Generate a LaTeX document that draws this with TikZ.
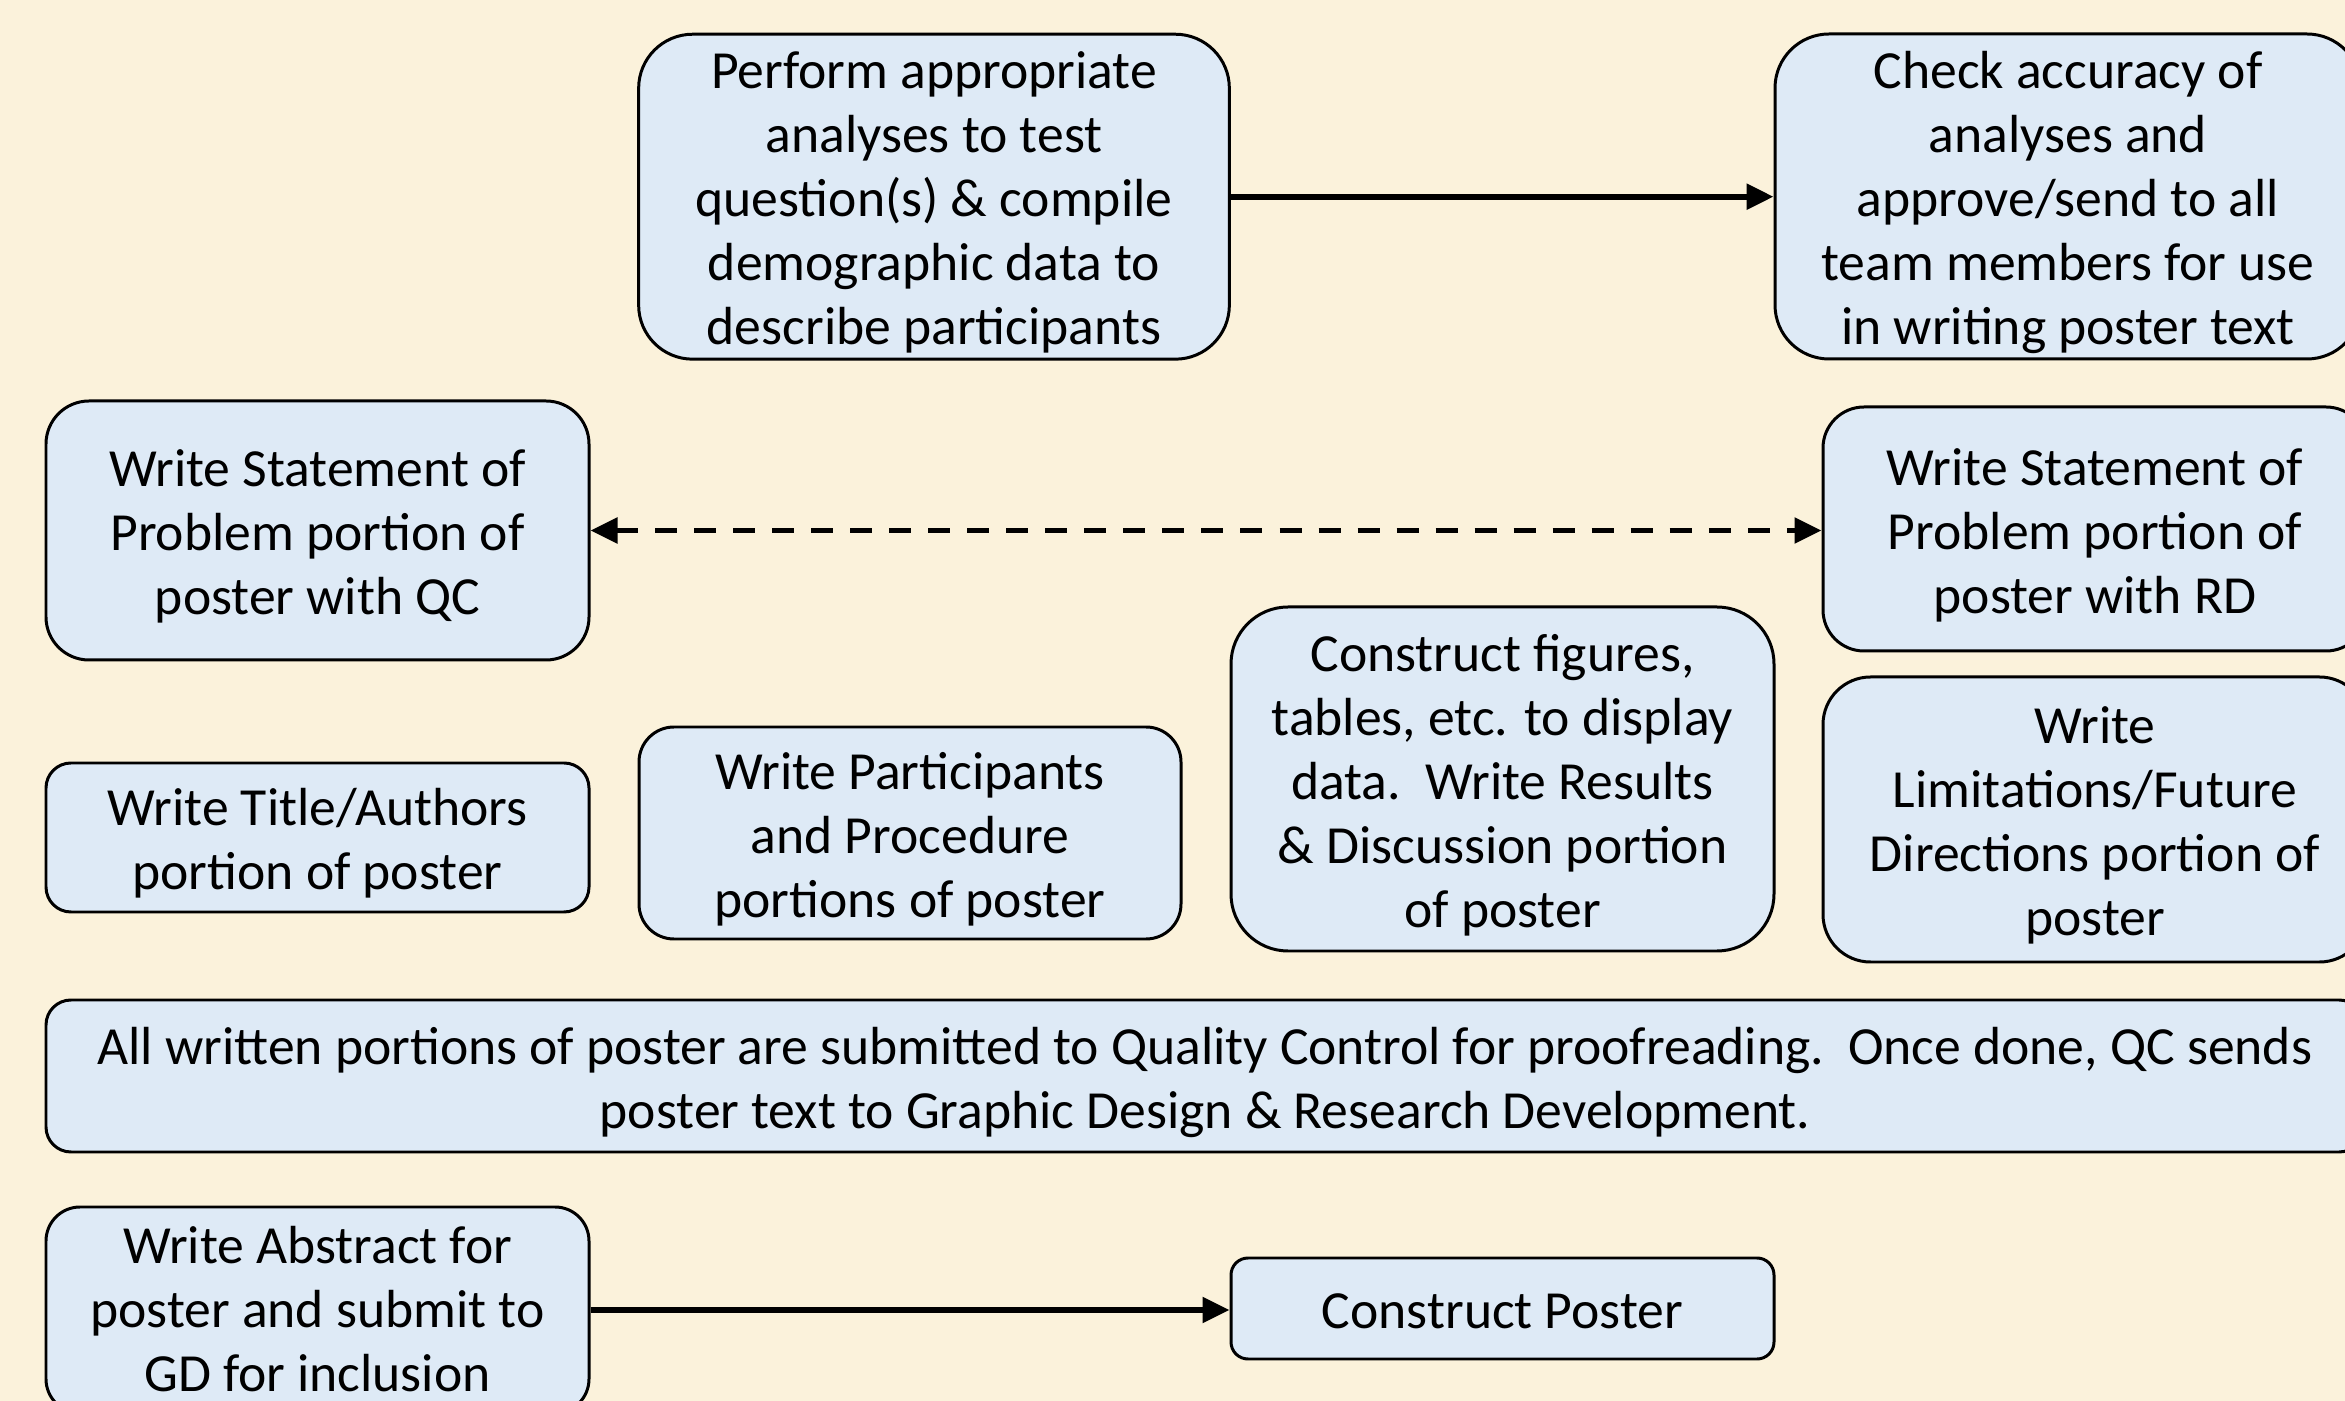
\documentclass[tikz,border=0pt]{standalone}
\usepackage{fontspec}
\setmainfont{Carlito}
\usetikzlibrary{arrows.meta}
\definecolor{bgcream}{HTML}{FBF2DB}
\definecolor{boxblue}{HTML}{DEEAF6}
\newcommand\myTop{\rule{0pt}{15.5pt}}
\newcommand\myTopB{\rule{0pt}{14.3pt}}
\newcommand\myBot{\rule[-4.1pt]{0pt}{0pt}}
\tikzset{
  rbox/.style n args={3}{draw=black, line width=0.85pt, fill=boxblue,
    align=center, inner sep=0pt, text=black,
    font=\fontsize{15.25pt}{18.2pt}\selectfont,
    minimum width=#1*0.01cm, minimum height=#2*0.01cm,
    rounded corners=#3*0.01cm},
  conn/.style={line width=1.6pt, -{Triangle[length=0.27cm,width=0.25cm]}},
  dconn/.style={line width=1.6pt, dash pattern=on 0.22cm off 0.17cm,
    {Triangle[length=0.27cm,width=0.25cm]}-{Triangle[length=0.27cm,width=0.25cm]}}
}
\begin{document}
\begin{tikzpicture}[x=0.01cm, y=-0.01cm]
\useasboundingbox (0,0) rectangle (2345,1401);
\clip (0,0) rectangle (2345,1401);
\fill[bgcream] (0,0) rectangle (2345,1401);

\node[rbox={590.7}{324.5}{54}] (perform) at (934,196.7)
  {\myTop Perform appropriate\\analyses to test\\question(s) \& compile\\demographic data to\\describe participants\myBot};
\node[rbox={586}{325}{54}] (check) at (2068,196.5)
  {\myTop Check accuracy of\\analyses and\\approve/send to all\\team members for use\\in writing poster text\myBot};
\node[rbox={543}{259}{43}] (qc) at (317.5,530.5)
  {\myTop Write Statement of\\Problem portion of\\poster with QC\myBot};
\node[rbox={544}{244}{41}] (rd) at (2095,529)
  {\myTop Write Statement of\\Problem portion of\\poster with RD\myBot};
\node[rbox={543}{149}{25}] (title) at (317.5,837.5)
  {\myTop Write Title/Authors\\portion of poster\myBot};
\node[rbox={542}{212}{35}] (part) at (910,833)
  {\myTop Write Participants\\and Procedure\\portions of poster\myBot};
\node[rbox={543}{344}{57}] (fig) at (1502.5,779)
  {\myTop Construct figures,\\tables, etc. to display\\data.\ \ Write Results\\\& Discussion portion\\of poster\myBot};
\node[rbox={544}{285}{47.5}] (lim) at (2095,819.5)
  {\myTop Write\\Limitations/Future\\Directions portion of\\poster\myBot};
\node[rbox={2318}{152}{25}] (all) at (1205,1076)
  {\myTop All written portions of poster are submitted to Quality Control for proofreading.\ \ Once done, QC sends\\poster text to Graphic Design \& Research Development.\myBot};
\node[rbox={543}{206}{34}] (abs) at (317.5,1310)
  {\myTopB Write Abstract for\\poster and submit to\\GD for inclusion\myBot};
\node[rbox={543}{101}{17}] (cons) at (1502.5,1308.5)
  {\myTop Construct Poster\myBot};

\draw[conn] (perform.east) -- (check.west |- perform.east);
\draw[dconn] (qc.east) -- (rd.west |- qc.east);
\draw[conn] (abs.east) -- (cons.west |- abs.east);
\end{tikzpicture}
\end{document}
